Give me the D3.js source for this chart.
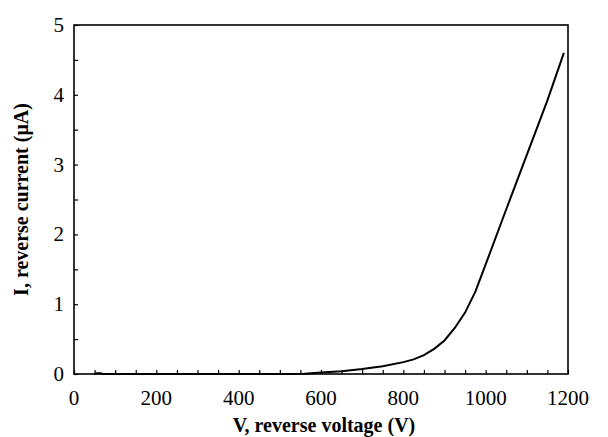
<!DOCTYPE html>
<html>
<head>
<meta charset="utf-8">
<script src="https://cdn.jsdelivr.net/npm/d3@7"></script>
<style>
  body { margin: 0; background: #fff; }
  text { font-family: "Liberation Serif", "Times New Roman", serif; fill: #000; }
</style>
</head>
<body>
<svg id="chart" width="608" height="437"></svg>
<script>
// reverse voltage (V) and reverse current (uA)
const voltage = [50, 55, 60, 65, 70, 100, 200, 300, 400, 500, 560, 600, 650, 700, 750, 800, 825, 850, 875, 900, 925, 950, 975, 1000, 1050, 1100, 1150, 1190];
const current = [0, 0.01, 0.012, 0.01, 0, 0, 0, 0, 0, 0, 0.005, 0.02, 0.04, 0.07, 0.11, 0.17, 0.21, 0.27, 0.36, 0.48, 0.66, 0.88, 1.18, 1.57, 2.36, 3.14, 3.92, 4.6];
const xTicks = [0, 200, 400, 600, 800, 1000, 1200];
const yTicks = [0, 1, 2, 3, 4, 5];

const m = { left: 74, right: 40, top: 25, bottom: 63 };
const W = 608, H = 437;

const svg = d3.select("#chart");

const x = d3.scaleLinear().domain([0, 1200]).range([m.left, W - m.right]);
const y = d3.scaleLinear().domain([0, 5]).range([H - m.bottom, m.top]);

// minor inward ticks
const xAxis = d3.axisBottom(x).tickValues(d3.range(0, 1201, 50)).tickSize(-4).tickFormat("");
const yAxis = d3.axisLeft(y).tickValues(d3.range(0, 5.01, 0.5)).tickSize(-4).tickFormat("");

svg.append("g").attr("transform", `translate(0,${y(0)})`).call(xAxis)
    .call(g => g.select(".domain").remove())
    .selectAll("line").attr("stroke", "#000").attr("stroke-width", 1.2);
svg.append("g").attr("transform", `translate(${x(0)},0)`).call(yAxis)
    .call(g => g.select(".domain").remove())
    .selectAll("line").attr("stroke", "#000").attr("stroke-width", 1.2);

// frame
svg.append("rect")
    .attr("x", x(0)).attr("y", y(5))
    .attr("width", x(1200) - x(0)).attr("height", y(0) - y(5))
    .attr("fill", "none").attr("stroke", "#000").attr("stroke-width", 1.6);

// tick labels
svg.selectAll(".xl").data(xTicks).enter().append("text")
    .attr("x", d => x(d)).attr("y", y(0) + 31)
    .attr("text-anchor", "middle").attr("font-size", 21)
    .text(d => d);
svg.selectAll(".yl").data(yTicks).enter().append("text")
    .attr("x", x(0) - 10).attr("y", d => y(d) + 7)
    .attr("text-anchor", "end").attr("font-size", 21)
    .text(d => d);

// curve
const pts = voltage.map((v, i) => [v, current[i]]);
svg.append("path").datum(pts)
    .attr("fill", "none").attr("stroke", "#000").attr("stroke-width", 2)
    .attr("d", d3.line().x(d => x(d[0])).y(d => y(d[1])));

// axis titles
svg.append("text")
    .attr("x", (x(0) + x(1200)) / 2 + 3).attr("y", 432)
    .attr("text-anchor", "middle").attr("font-size", 20).attr("font-weight", "bold")
    .text("V, reverse voltage (V)");
svg.append("text")
    .attr("transform", `translate(28,${(y(0) + y(5)) / 2}) rotate(-90)`)
    .attr("text-anchor", "middle").attr("font-size", 20).attr("font-weight", "bold")
    .text("I, reverse current (μA)");
</script>
</body>
</html>
